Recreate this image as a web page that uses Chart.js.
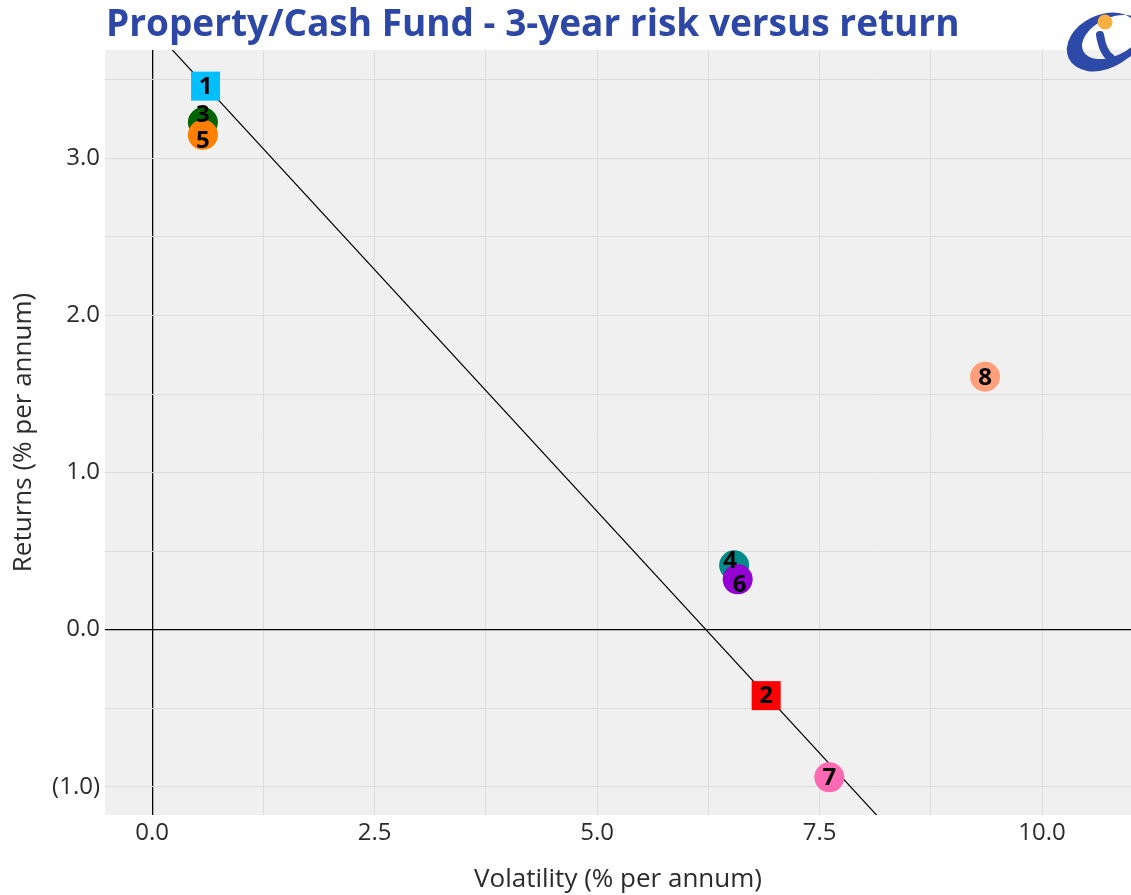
<!DOCTYPE html>
<html>
<head>
<meta charset="utf-8">
<script src="https://cdn.jsdelivr.net/npm/chart.js@4"></script>
<style>
  body { margin: 0; background: #fff; overflow: hidden; }
  #wrap { width: 1131px; height: 895px; position: relative; }
</style>
</head>
<body>
<div id="wrap"><canvas id="riskChart"></canvas></div>
<script>
// fund numbers, 3-year volatility and return (% p.a.)
var fundLabels = ["1", "2", "3", "4", "5", "6", "7", "8"];
var volatility = [0.60, 6.90, 0.57, 6.54, 0.57, 6.58, 7.61, 9.36];
var returns = [3.46, -0.42, 3.23, 0.41, 3.15, 0.32, -0.94, 1.61];
var fundColors = ['#00bfff', '#ff0000', '#006400', '#008b8b', '#ff7f00', '#9400d3', '#ff69b4', '#ffa07a'];
var fundShapes = ['rect', 'rect', 'circle', 'circle', 'circle', 'circle', 'circle', 'circle'];

// line through the two squares, extended past the plot edges
var lineX = [0, 11];
var lineY = [3.83, -2.94];

var xTicks = [0, 2.5, 5, 7.5, 10];
var yTicks = [-1, 0, 1, 2, 3];

var titleText = "Property/Cash Fund - 3-year risk versus return";
var navy = '#2c47a6';
var fontName = "'Open Sans', sans-serif";

function fmt(v) {
    return v < 0 ? '(' + Math.abs(v).toFixed(1) + ')' : v.toFixed(1);
}
function isTick(list, v) {
    return list.some(function (t) { return Math.abs(t - v) < 1e-6; });
}

var points = volatility.map(function (v, i) { return { x: v, y: returns[i] }; });
var linePts = lineX.map(function (v, i) { return { x: v, y: lineY[i] }; });

// small nudges so the overlapping labels stay readable
var nudge = [[0, 0], [0, 0], [0, -8], [-4, -5], [0, 5], [2, 5], [0, 0], [0, 0]];

var panelBg = {
    id: 'panelBg',
    beforeDraw: function (chart) {
        var a = chart.chartArea, c = chart.ctx;
        c.save();
        c.fillStyle = '#f0f0f0';
        c.fillRect(a.left, a.top, a.right - a.left, a.bottom - a.top);
        c.restore();
    }
};

var pointLabels = {
    id: 'pointLabels',
    afterDatasetsDraw: function (chart) {
        var c = chart.ctx;
        var meta = chart.getDatasetMeta(0);
        c.save();
        c.font = "bold 24px " + fontName;
        c.fillStyle = '#000';
        c.textAlign = 'center';
        c.textBaseline = 'middle';
        meta.data.forEach(function (pt, i) {
            c.fillText(fundLabels[i], pt.x + nudge[i][0], pt.y + nudge[i][1] + 1);
        });
        c.restore();
    }
};

var header = {
    id: 'header',
    afterDraw: function (chart) {
        var c = chart.ctx;
        c.save();
        c.font = "bold 37px " + fontName;
        c.fillStyle = navy;
        c.textBaseline = 'middle';
        c.fillText(titleText, 106, 25);

        // logo, roughly
        var blue = '#2e4aa8';
        c.fillStyle = blue;
        c.beginPath();
        c.ellipse(1103, 42, 38, 27, -0.45, 0, Math.PI * 2);
        c.ellipse(1112, 37, 32, 19, -0.45, 0, Math.PI * 2);
        c.fill('evenodd');
        c.strokeStyle = blue;
        c.lineCap = 'round';
        c.lineWidth = 8;
        c.beginPath();
        c.moveTo(1100, 35);
        c.quadraticCurveTo(1103, 53, 1111, 58);
        c.stroke();
        c.lineWidth = 3;
        c.beginPath();
        c.moveTo(1096, 67);
        c.quadraticCurveTo(1118, 65, 1131, 54);
        c.stroke();
        c.fillStyle = '#f5b041';
        c.beginPath();
        c.arc(1105, 22, 7.5, 0, Math.PI * 2);
        c.fill();
        c.restore();
    }
};

function gridColor(ctx) {
    return ctx.tick && Math.abs(ctx.tick.value) < 1e-9 ? '#000' : '#dcdcdc';
}
function gridWidth(ctx) {
    return ctx.tick && Math.abs(ctx.tick.value) < 1e-9 ? 1.3 : 1;
}

var ctx = document.getElementById('riskChart').getContext('2d');
var riskChart = new Chart(ctx, {
    data: {
        datasets: [{
            type: 'scatter',
            data: points,
            pointStyle: fundShapes,
            pointRadius: fundShapes.map(function (s) { return s === 'rect' ? 20.5 : 15; }),
            pointBackgroundColor: fundColors,
            pointBorderWidth: 0,
            pointHoverRadius: fundShapes.map(function (s) { return s === 'rect' ? 20.5 : 15; })
        }, {
            type: 'line',
            data: linePts,
            borderColor: '#000',
            borderWidth: 1.2,
            pointRadius: 0,
            fill: false
        }]
    },
    options: {
        responsive: true,
        maintainAspectRatio: false,
        animation: false,
        layout: { autoPadding: false, padding: { top: 50, right: 0, left: 0, bottom: 0 } },
        plugins: {
            legend: { display: false },
            tooltip: { enabled: false }
        },
        scales: {
            x: {
                type: 'linear',
                min: -0.53,
                max: 11.0,
                border: { display: false },
                grid: { color: gridColor, lineWidth: gridWidth, drawTicks: false },
                afterFit: function (s) { s.height = 80; s.paddingRight = 0; s.paddingLeft = 0; },
                ticks: {
                    stepSize: 1.25,
                    includeBounds: false,
                    autoSkip: false,
                    maxRotation: 0,
                    padding: 4,
                    color: '#2b2b2b',
                    font: { family: fontName, size: 24 },
                    callback: function (v) { return isTick(xTicks, v) ? fmt(v) : ''; }
                },
                title: {
                    display: true,
                    text: 'Volatility (% per annum)',
                    color: '#2b2b2b',
                    font: { family: fontName, size: 26 },
                    padding: { top: 0, bottom: 0 }
                }
            },
            y: {
                type: 'linear',
                min: -1.18,
                max: 3.69,
                border: { display: false },
                grid: { color: gridColor, lineWidth: gridWidth, drawTicks: false },
                afterFit: function (s) { s.width = 105; },
                ticks: {
                    stepSize: 0.5,
                    includeBounds: false,
                    autoSkip: false,
                    padding: 5,
                    color: '#2b2b2b',
                    font: { family: fontName, size: 24 },
                    callback: function (v) { return isTick(yTicks, v) ? fmt(v) : ''; }
                },
                title: {
                    display: true,
                    text: 'Returns (% per annum)',
                    color: '#2b2b2b',
                    font: { family: fontName, size: 26 },
                    padding: { top: 8, bottom: 0 }
                }
            }
        }
    },
    plugins: [panelBg, pointLabels, header]
});
</script>
</body>
</html>
